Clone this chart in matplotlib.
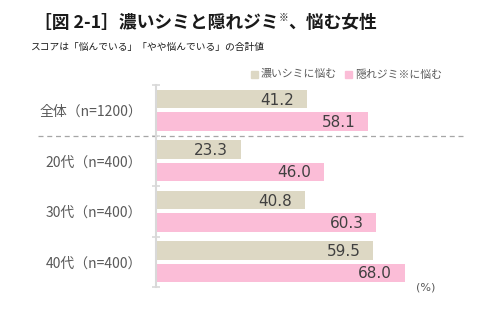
import matplotlib
matplotlib.use("Agg")
import matplotlib.pyplot as plt
import numpy as np
from matplotlib.patches import Rectangle

plt.rcParams['font.family'] = ['Noto Sans CJK JP', 'DejaVu Sans']

# data
categories = ["全体（n=1200）", "20代（n=400）", "30代（n=400）", "40代（n=400）"]
series_names = ["濃いシミに悩む", "隠れジミ※に悩む"]
koi_shimi = [41.2, 23.3, 40.8, 59.5]
kakure_jimi = [58.1, 46.0, 60.3, 68.0]

colors = ["#DDD8C4", "#FBBDD7"]
text_col = "#595959"

fig = plt.figure(figsize=(5.0, 3.24), dpi=100)
ax = fig.add_axes([156 / 500, 1 - 287 / 324, 307 / 500, 202 / 324])

y = np.arange(len(categories))
h = 0.37
off = 0.22
b1 = ax.barh(y - off, koi_shimi, height=h, color=colors[0])
b2 = ax.barh(y + off, kakure_jimi, height=h, color=colors[1])

for bars, vals in [(b1, koi_shimi), (b2, kakure_jimi)]:
    for bar, v in zip(bars, vals):
        ax.text(v - 3.5, bar.get_y() + bar.get_height() / 2 + 0.02, f"{v:.1f}",
                ha="right", va="center", fontsize=11, color="#404040",
                family="DejaVu Sans")

ax.set_xlim(0, 84)
ax.set_ylim(len(categories) - 0.5, -0.5)
ax.set_yticks(y)
ax.set_yticklabels(categories, fontsize=10, color=text_col)
ax.set_yticks(np.arange(-0.5, len(categories), 1.0), minor=True)
ax.tick_params(axis="y", which="major", length=0, pad=10)
ax.tick_params(axis="y", which="minor", length=6, direction="inout", color="#D9D9D9", width=1.2)
ax.set_xticks([])
for s in ["top", "right", "bottom"]:
    ax.spines[s].set_visible(False)
ax.spines["left"].set_color("#D9D9D9")
ax.spines["left"].set_linewidth(1.5)

# dashed separator after 全体
ax.plot([-0.384, 1.0], [0.5, 0.5], transform=ax.get_yaxis_transform(),
        color="#A6A6A6", linestyle=(0, (4, 3)), linewidth=0.9, clip_on=False)

ax.text(416 / 500, 1 - 287 / 324, "(%)", transform=fig.transFigure,
        fontsize=8, color=text_col, ha="left", va="center", family="DejaVu Sans")

# title (※ as a small superscript)
t1 = fig.text(34 / 500, 1 - 23 / 324, "［図 2-1］濃いシミと隠れジミ", fontsize=12.8,
              fontweight="bold", color="#1a1a1a", ha="left", va="center")
t2 = fig.text(0, 0, "※", fontsize=7, color="#1a1a1a", va="top")
t3 = fig.text(0, 0, "、悩む女性", fontsize=12.8, fontweight="bold", color="#1a1a1a", va="center")
fig.canvas.draw()
r = fig.canvas.get_renderer()
bb1 = t1.get_window_extent(r).transformed(fig.transFigure.inverted())
t2.set_position((bb1.x1, 1 - 13 / 324))
fig.canvas.draw()
bb2 = t2.get_window_extent(r).transformed(fig.transFigure.inverted())
t3.set_position((bb2.x1, 1 - 23 / 324))

fig.text(30 / 500, 1 - 47 / 324, "スコアは「悩んでいる」「やや悩んでいる」の合計値",
         fontsize=7, color="#1a1a1a", ha="left", va="center")

# legend
lx = [251, 345]
for x0, c, name in zip(lx, colors, series_names):
    fig.patches.append(Rectangle((x0 / 500, 1 - 78 / 324), 7 / 500, 7 / 324,
                                 transform=fig.transFigure, color=c))
    fig.text((x0 + 10) / 500, 1 - 74.5 / 324, name, fontsize=7.8, color=text_col,
             ha="left", va="center")

fig.savefig("out.png", dpi=100)
